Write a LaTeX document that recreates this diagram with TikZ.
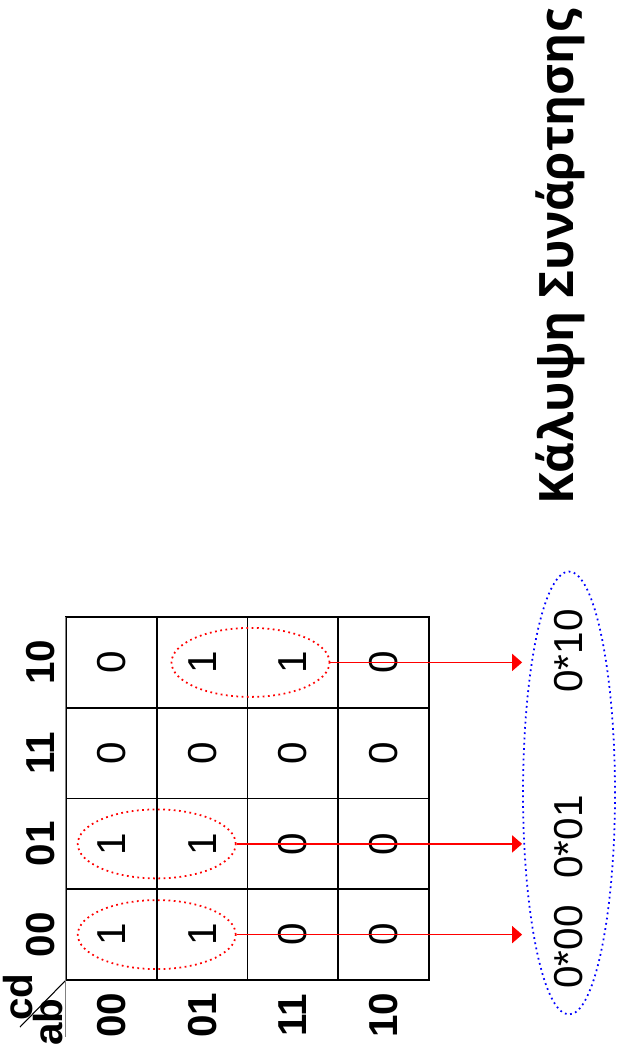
\documentclass[tikz,border=0pt]{standalone}
\usepackage{fontspec}
\setmainfont{Liberation Sans}
\newfontfamily\titlefont{Open Sans}
\usetikzlibrary{shapes, arrows.meta, positioning, calc}

\tikzset{
  cell/.style={draw, rotate=90, minimum size=1.815cm, inner sep=0pt, line width=1pt,
    font=\fontsize{23}{27}\selectfont},
  lbl/.style={rotate=90, inner sep=0pt, font=\fontsize{23}{27}\selectfont\bfseries},
  group/.style={draw=red, dotted, line width=1pt, ellipse, inner sep=0pt,
    minimum width=3.16cm, minimum height=1.38cm},
  link/.style={red, line width=0.9pt, -{Triangle[length=0.2cm, width=0.34cm]}},
  term/.style={rotate=90, inner sep=0pt, font=\fontsize{23}{27}\selectfont}
}

\begin{document}
\begin{tikzpicture}[x=0.02cm, y=-0.02cm]
        \useasboundingbox (0,0) rectangle (621,1057);

        % map cells, named kABCD
        \node[cell] (k0010) at (111.4, 662.4) {0};
        \node[cell] (k0110) at (202.1, 662.4) {1};
        \node[cell] (k1110) at (292.9, 662.4) {1};
        \node[cell] (k1010) at (383.6, 662.4) {0};
        \node[cell] (k0011) at (111.4, 753.1) {0};
        \node[cell] (k0111) at (202.1, 753.1) {0};
        \node[cell] (k1111) at (292.9, 753.1) {0};
        \node[cell] (k1011) at (383.6, 753.1) {0};
        \node[cell] (k0001) at (111.4, 843.9) {1};
        \node[cell] (k0101) at (202.1, 843.9) {1};
        \node[cell] (k1101) at (292.9, 843.9) {0};
        \node[cell] (k1001) at (383.6, 843.9) {0};
        \node[cell] (k0000) at (111.4, 934.6) {1};
        \node[cell] (k0100) at (202.1, 934.6) {1};
        \node[cell] (k1100) at (292.9, 934.6) {0};
        \node[cell] (k1000) at (383.6, 934.6) {0};

        % cd and ab labels
        \node[lbl] (cd10) at (41, 662.4) {10};
        \node[lbl] (cd11) at (41, 753.1) {11};
        \node[lbl] (cd01) at (41, 843.9) {01};
        \node[lbl] (cd00) at (41, 934.6) {00};
        \node[lbl] (ab00) at (111.4, 1015) {00};
        \node[lbl] (ab01) at (202.1, 1015) {01};
        \node[lbl] (ab11) at (292.9, 1015) {11};
        \node[lbl] (ab10) at (383.6, 1015) {10};

        \coordinate (edge) at (65.5, 617);
        \coordinate (corner) at (65.5, 980.5);
        \coordinate (slash) at (20, 1027);
        \coordinate (tail) at (65.5, 1037);
        \node[lbl] (cd) at (18, 997) {cd};
        \node[lbl] (ab) at (48, 1022) {ab};
        \draw[line width=0.6pt] (corner) -- (slash);
        \draw[gray, line width=1pt] (edge) -- (tail);

        % groups of ones
        \node[group] (g1) at ($(k0110)!0.5!(k1110)+(3,0)$) {};
        \node[group] (g2) at ($(k0001)!0.5!(k0101)$) {};
        \node[group] (g3) at ($(k0000)!0.5!(k0100)$) {};

        % covering terms
        \node[draw=blue, dotted, line width=1pt, ellipse, inner sep=0pt,
              minimum width=1.84cm, minimum height=8.86cm] (cover) at (569, 793) {};
        \node[term] (t1) at (569, 651) {0*10};
        \node[term] (t2) at (569, 837) {0*01};
        \node[term] (t3) at (569, 947) {0*00};

        \draw[link] (g1.east) -- (g1.east -| cover.west);
        \draw[link] (g2.east) -- (g2.east -| cover.west);
        \draw[link] (g3.east) -- (g3.east -| cover.west);

        \node[rotate=90, anchor=base, inner sep=0pt,
              font=\titlefont\fontsize{27}{32}\selectfont\bfseries] (title) at (573, 257)
            {Κάλυψη Συνάρτησης};
    \end{tikzpicture}
\end{document}
